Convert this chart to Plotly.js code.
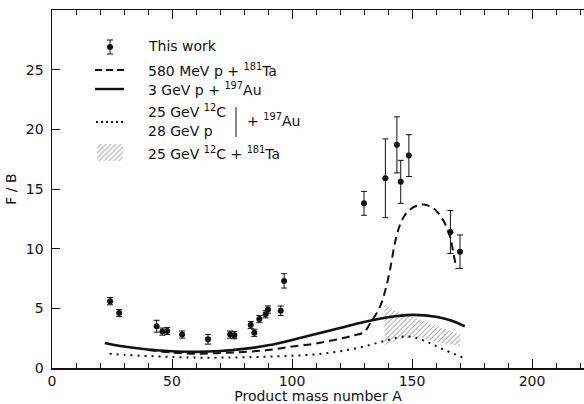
<!DOCTYPE html>
<html>
<head>
<meta charset="utf-8">
<script src="https://cdn.plot.ly/plotly-3.0.1.min.js"></script>
<style>html,body{margin:0;padding:0;background:#fff;}#chart{width:584px;height:404px;}</style>
</head>
<body>
<div id="chart"></div>
<script>
// ---- data ----
const workA   = [24.2, 28, 43.6, 46, 48, 54.2, 65, 74.2, 76, 82.8, 84.3, 86.4, 89, 90, 95.3, 96.7, 130, 138.9, 143.7, 145.3, 148.7, 166, 170];
const workFB  = [5.6, 4.6, 3.5, 3.05, 3.1, 2.8, 2.4, 2.8, 2.75, 3.6, 2.95, 4.1, 4.5, 4.9, 4.8, 7.3, 13.8, 15.9, 18.7, 15.6, 17.8, 11.4, 9.75];
const workErr = [0.3, 0.3, 0.5, 0.3, 0.3, 0.3, 0.4, 0.3, 0.3, 0.3, 0.3, 0.3, 0.3, 0.3, 0.4, 0.6, 1.0, 3.3, 2.35, 1.8, 1.75, 1.8, 1.4];

const taA  = [40, 50, 60, 70, 80, 90, 100, 110, 120, 126, 130, 133, 135, 137, 139, 141, 143, 145, 147, 150, 153, 155, 158, 160, 162, 164, 166, 167.2, 168.5];
const taFB = [1.5, 1.3, 1.2, 1.25, 1.35, 1.5, 1.8, 2.05, 2.45, 2.75, 3.0, 3.9, 4.5, 5.3, 6.6, 8.4, 10.6, 12.0, 12.8, 13.4, 13.65, 13.7, 13.5, 13.2, 12.7, 12.0, 10.9, 9.7, 8.3];

const au3A  = [22, 30, 40, 50, 60, 70, 80, 90, 100, 110, 120, 130, 140, 150, 160, 166, 172];
const au3FB = [2.1, 1.8, 1.55, 1.4, 1.35, 1.42, 1.6, 1.9, 2.35, 2.85, 3.35, 3.85, 4.25, 4.45, 4.3, 4.0, 3.5];

const au25A  = [24, 30, 40, 50, 60, 70, 80, 90, 100, 110, 120, 130, 140, 148, 155, 162, 172];
const au25FB = [1.2, 1.1, 1.0, 0.92, 0.87, 0.87, 0.9, 0.95, 1.02, 1.15, 1.4, 1.8, 2.35, 2.65, 2.3, 1.65, 0.82];

const cTaUpperA  = [138.5, 142, 146, 150, 155, 160, 165, 170];
const cTaUpperFB = [5.3, 4.9, 4.6, 4.3, 3.9, 3.5, 3.15, 2.8];
const cTaLowerA  = [138.5, 145, 150, 155, 160, 165, 170];
const cTaLowerFB = [1.9, 2.4, 2.6, 2.5, 2.2, 2.0, 1.8];

const xTickVals = [0, 50, 100, 150, 200];
const yTickVals = [0, 5, 10, 15, 20, 25];

const legendLabels = [
  "This work",
  "580 MeV p + <sup>181</sup>Ta",
  "3 GeV p + <sup>197</sup>Au",
  "25 GeV <sup>12</sup>C",
  "28 GeV p",
  "+ <sup>197</sup>Au",
  "25 GeV <sup>12</sup>C + <sup>181</sup>Ta"
];

// ---- layout helpers (pixel -> paper) ----
const W = 584, H = 404, ML = 52, MR = 0, MT = 10, MB = 36;
const PW = W - ML - MR, PH = H - MT - MB;
const px = x => (x - ML) / PW;
const py = y => (H - MB - y) / PH;

const FONT = "DejaVu Sans, Liberation Sans, sans-serif";
const black = "#111";

// hatched band polygon (upper edge then lower edge reversed)
const bandX = cTaUpperA.concat(cTaLowerA.slice().reverse());
const bandY = cTaUpperFB.concat(cTaLowerFB.slice().reverse());

const hatch = {shape: "/", fgcolor: "#666", bgcolor: "rgba(255,255,255,0)", size: 3.5, solidity: 0.22};

const traces = [
  {x: bandX, y: bandY, type: "scatter", mode: "lines", fill: "toself",
   line: {width: 0, color: "rgba(0,0,0,0)"}, fillcolor: "rgba(0,0,0,0)",
   fillpattern: hatch, hoverinfo: "skip", showlegend: false},
  {x: au3A, y: au3FB, type: "scatter", mode: "lines", line: {color: black, width: 2.6, shape: "spline"}, showlegend: false},
  {x: taA, y: taFB, type: "scatter", mode: "lines", line: {color: black, width: 2, dash: "8px,5px", shape: "spline"}, showlegend: false},
  {x: au25A, y: au25FB, type: "scatter", mode: "lines", line: {color: black, width: 2, dash: "2px,5px", shape: "spline"}, showlegend: false},
  {x: workA, y: workFB, type: "scatter", mode: "markers",
   marker: {color: black, size: 6},
   error_y: {type: "data", array: workErr, visible: true, color: black, thickness: 1, width: 3},
   showlegend: false},
  // legend swatches on an overlay axis in pixel-like coordinates
  {x: [px(110)], y: [py(47)], xaxis: "x2", yaxis: "y2", type: "scatter", mode: "markers",
   marker: {color: black, size: 6}, error_y: {type: "constant", value: 7 / PH, visible: true, color: black, thickness: 1, width: 3},
   hoverinfo: "skip", showlegend: false},
  {x: [px(97), px(123), px(123), px(97), px(97)], y: [py(144), py(144), py(161), py(161), py(144)],
   xaxis: "x2", yaxis: "y2", type: "scatter", mode: "lines", fill: "toself",
   line: {width: 0, color: "rgba(0,0,0,0)"}, fillcolor: "rgba(0,0,0,0)",
   fillpattern: hatch, hoverinfo: "skip", showlegend: false}
];

const shapes = [
  {type: "line", xref: "paper", yref: "paper", x0: px(95), x1: px(124), y0: py(70), y1: py(70), line: {color: black, width: 2, dash: "7px,4px"}},
  {type: "line", xref: "paper", yref: "paper", x0: px(95), x1: px(124), y0: py(89), y1: py(89), line: {color: black, width: 2.4}},
  {type: "line", xref: "paper", yref: "paper", x0: px(96), x1: px(124), y0: py(122), y1: py(122), line: {color: black, width: 2, dash: "2px,3px"}},
  {type: "line", xref: "paper", yref: "paper", x0: px(236), x1: px(236), y0: py(107), y1: py(137), line: {color: black, width: 1}}
];

function ann(text, x, y) {
  return {text: text, xref: "paper", yref: "paper", x: px(x), y: py(y), xanchor: "left", yanchor: "middle",
          showarrow: false, font: {family: FONT, size: 14, color: black}};
}
const annotations = [
  ann(legendLabels[0], 146, 46),
  ann(legendLabels[1], 146, 70),
  ann(legendLabels[2], 146, 89),
  ann(legendLabels[3], 146, 111),
  ann(legendLabels[4], 146, 131),
  ann(legendLabels[5], 245, 120),
  ann(legendLabels[6], 146, 153)
];

const layout = {
  width: W, height: H,
  margin: {l: ML, r: MR, t: MT, b: MB, pad: 0},
  paper_bgcolor: "#fff", plot_bgcolor: "#fff",
  font: {family: FONT, size: 13, color: black},
  showlegend: false,
  xaxis: {
    range: [0, (W - ML - MR) / 2.4], tickvals: xTickVals, ticks: "inside", ticklen: 9, tickwidth: 1, tickcolor: black,
    minor: {dtick: 10, tick0: 0, ticks: "inside", ticklen: 5, tickwidth: 1, tickcolor: black},
    showline: true, linecolor: black, linewidth: 1.5, mirror: "ticks",
    showgrid: false, zeroline: false, tickfont: {family: FONT, size: 14, color: black},
    title: {text: "Product mass number A", font: {family: FONT, size: 14, color: black}, standoff: 4}
  },
  yaxis: {
    range: [0, 30], tickvals: yTickVals, ticks: "inside", ticklen: 8, tickwidth: 1, tickcolor: black,
    showline: true, linecolor: black, linewidth: 1.5, ticklabelstandoff: 4,
    showgrid: false, zeroline: false, tickfont: {family: FONT, size: 14, color: black},
    title: {text: "F / B", font: {family: FONT, size: 14, color: black}, standoff: 6}
  },
  xaxis2: {overlaying: "x", range: [0, 1], visible: false, fixedrange: true},
  yaxis2: {overlaying: "y", range: [0, 1], visible: false, fixedrange: true},
  shapes: shapes,
  annotations: annotations
};

Plotly.newPlot("chart", traces, layout, {displayModeBar: false, staticPlot: true});
</script>
</body>
</html>
